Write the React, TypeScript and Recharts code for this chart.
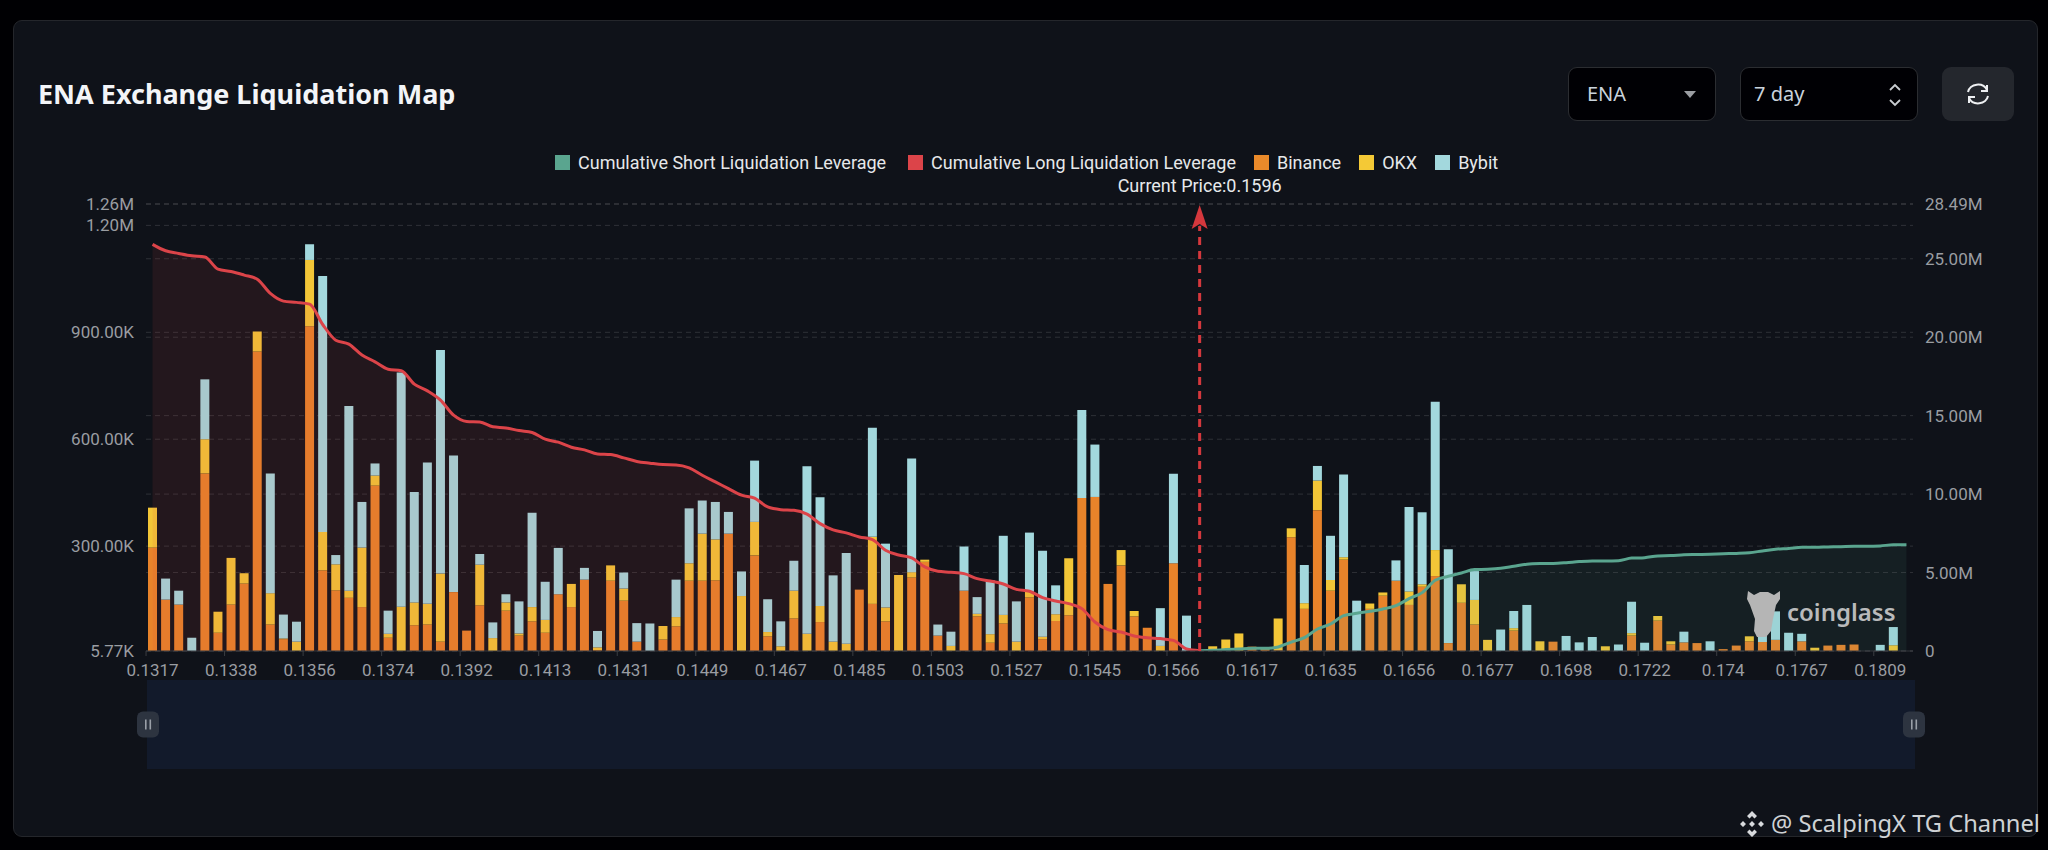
import React from "react";
import { ComposedChart, Bar, Area, XAxis, YAxis, CartesianGrid, Legend, ReferenceLine, Brush } from "recharts";

// x tick labels, one for every 6th price bucket
const priceLabels = [
  "0.1317", "0.1338", "0.1356", "0.1374", "0.1392", "0.1413", "0.1431", "0.1449",
  "0.1467", "0.1485", "0.1503", "0.1527", "0.1545", "0.1566", "0.1617", "0.1635",
  "0.1656", "0.1677", "0.1698", "0.1722", "0.174", "0.1767", "0.1809",
];

// liquidation per bucket, thousands
const binance = [
  296, 150, 136, 0, 504, 57, 136, 195, 846, 80,
  39, 0, 917, 232, 176, 155, 129, 470, 43, 0,
  78, 80, 32, 171, 63, 134, 0, 119, 49, 89,
  57, 165, 129, 206, 8, 203, 147, 32, 0, 38,
  75, 203, 203, 204, 335, 0, 274, 47, 0, 97,
  0, 87, 0, 0, 178, 138, 89, 0, 212, 256,
  49, 0, 175, 103, 29, 83, 0, 156, 39, 90,
  106, 435, 438, 194, 246, 103, 71, 0, 252, 0,
  0, 0, 0, 0, 18, 10, 8, 325, 124, 401,
  175, 262, 0, 124, 161, 203, 135, 186, 216, 28,
  141, 80, 0, 0, 63, 0, 0, 32, 0, 0,
  0, 0, 0, 49, 0, 91, 24, 30, 28, 0,
  11, 21, 33, 31, 37, 0, 33, 0, 21, 23,
  24, 0, 0, 0, 0,
];
const okx = [
  112, 0, 0, 0, 96, 59, 131, 29, 56, 88,
  2, 32, 186, 108, 73, 20, 167, 28, 11, 130,
  64, 58, 191, 0, 0, 114, 42, 23, 6, 40,
  36, 0, 65, 0, 8, 43, 34, 0, 0, 38,
  26, 49, 132, 115, 0, 160, 94, 12, 19, 78,
  54, 45, 32, 26, 0, 188, 39, 219, 15, 6,
  0, 20, 0, 7, 24, 24, 32, 16, 7, 19,
  160, 0, 0, 0, 43, 15, 0, 20, 0, 0,
  0, 19, 38, 55, 0, 2, 89, 25, 16, 83,
  30, 7, 0, 15, 9, 0, 38, 7, 73, 0,
  52, 69, 37, 0, 7, 0, 33, 0, 0, 0,
  0, 19, 0, 7, 0, 13, 9, 0, 0, 0,
  0, 0, 14, 0, 0, 0, 0, 15, 0, 0,
  0, 0, 0, 22, 0,
];
const bybit = [
  0, 59, 39, 43, 168, 0, 0, 0, 0, 336,
  67, 56, 44, 718, 26, 518, 128, 34, 65, 657,
  310, 397, 627, 383, 0, 30, 44, 23, 90, 265,
  107, 130, 0, 33, 46, 0, 45, 52, 83, 0,
  105, 154, 93, 105, 61, 69, 172, 92, 70, 84,
  470, 305, 186, 255, 0, 306, 179, 0, 319, 0,
  31, 40, 124, 47, 151, 222, 113, 166, 241, 81,
  0, 247, 147, 0, 0, 0, 0, 106, 251, 105,
  0, 0, 0, 0, 0, 0, 0, 0, 107, 41,
  124, 232, 147, 0, 0, 57, 237, 202, 416, 263,
  0, 81, 0, 66, 48, 135, 0, 0, 48, 30,
  45, 0, 24, 88, 29, 0, 0, 30, 0, 33,
  0, 0, 0, 53, 80, 57, 21, 0, 0, 0,
  0, 0, 23, 51, 0,
];

// cumulative leverage, millions. Long runs from bucket 0 to 80, short from 80 to 134
const cumulativeLong = [
  25.92, 25.51, 25.34, 25.19, 25.11, 24.34, 24.19, 23.96, 23.7, 22.79,
  22.3, 22.22, 22.11, 20.81, 19.81, 19.56, 18.86, 18.43, 17.96, 17.86,
  17.01, 16.58, 15.99, 15.03, 14.63, 14.6, 14.29, 14.22, 14.05, 13.93,
  13.5, 13.31, 12.99, 12.82, 12.56, 12.52, 12.31, 12.08, 11.97, 11.88,
  11.86, 11.67, 11.2, 10.78, 10.35, 9.93, 9.74, 9.18, 9.01, 8.97,
  8.72, 8.12, 7.72, 7.53, 7.27, 7.1, 6.42, 6.12, 5.93, 5.36,
  5.08, 5.02, 4.93, 4.61, 4.46, 4.27, 3.93, 3.81, 3.4, 3.19,
  3.02, 2.7, 1.85, 1.36, 1.21, 0.96, 0.85, 0.79, 0.68, 0.13,
  0.02,
];
const cumulativeShort = [
  0.02, 0.04, 0.09, 0.13, 0.17, 0.17, 0.26, 0.57, 0.85, 1.4,
  1.72, 2.25, 2.4, 2.53, 2.68, 2.89, 3.34, 3.72, 4.51, 4.76,
  4.97, 5.19, 5.21, 5.27, 5.4, 5.53, 5.57, 5.58, 5.63, 5.7,
  5.74, 5.74, 5.76, 5.92, 5.95, 6.06, 6.08, 6.13, 6.15, 6.17,
  6.2, 6.22, 6.26, 6.38, 6.49, 6.54, 6.61, 6.61, 6.63, 6.65,
  6.67, 6.67, 6.7, 6.77, 6.77,
];
const shortStart = 80;

const leftTicks = [5.77, 300, 600, 900, 1200, 1260];
const leftLabels = ["5.77K", "300.00K", "600.00K", "900.00K", "1.20M", "1.26M"];
const rightTicks = [0, 5, 10, 15, 20, 25, 28.49];
const rightLabels = ["0", "5.00M", "10.00M", "15.00M", "20.00M", "25.00M", "28.49M"];

const legendItems = [
  { name: "Cumulative Short Liquidation Leverage", color: "#5aa58f" },
  { name: "Cumulative Long Liquidation Leverage", color: "#dc4449" },
  { name: "Binance", color: "#ea8a2a" },
  { name: "OKX", color: "#f4c936" },
  { name: "Bybit", color: "#a3d8dd" },
];

const rows = binance.map((b, i) => ({
  bucket: i,
  binance: b,
  okx: okx[i],
  bybit: bybit[i],
  long: i < cumulativeLong.length ? cumulativeLong[i] : null,
  short: i >= shortStart ? cumulativeShort[i - shortStart] : null,
}));

const axisFont = "Roboto, sans-serif";

const PriceTick = (props: any) => {
  const { x, y, payload } = props;
  return (
    <g>
      <line x1={x - 6.5} x2={x - 6.5} y1={y - 8} y2={y - 3} stroke="#3a3d42" />
      <text x={x} y={y + 17} textAnchor="middle" fontFamily={axisFont} fontSize={17} fill="#9a9da2">
        {priceLabels[payload.value / 6]}
      </text>
    </g>
  );
};

const CurrentPrice = (props: any) => {
  const { x1, y1, y2 } = props;
  const bottom = Math.max(y1, y2);
  const top = Math.min(y1, y2);
  return (
    <g>
      <line x1={x1} x2={x1} y1={bottom} y2={top + 22} stroke="#d5383d" strokeWidth={3} strokeDasharray="8 6" />
      <path
        d={`M${x1} ${top + 1} L${x1 + 8} ${top + 25} L${x1} ${top + 20} L${x1 - 8} ${top + 25} Z`}
        fill="#d5383d"
      />
      <text x={x1} y={top - 12} textAnchor="middle" fontFamily={axisFont} fontSize={18} fill="#e8eaec">
        Current Price:0.1596
      </text>
    </g>
  );
};

const Handle = (props: any) => {
  const { x, y, height } = props;
  const cx = x + 1;
  const cy = y + height / 2;
  return (
    <g>
      <rect x={cx - 11} y={cy - 13} width={22} height={26} rx={6} fill="#2d3440" />
      <rect x={cx - 3} y={cy - 5} width={1.6} height={10} fill="#9aa0a8" />
      <rect x={cx + 1.5} y={cy - 5} width={1.6} height={10} fill="#9aa0a8" />
    </g>
  );
};

const ChartLegend = () => (
  <div style={{ display: "flex", alignItems: "center", fontFamily: axisFont, fontSize: 18, color: "#e6e8ea", whiteSpace: "nowrap" }}>
    {legendItems.map((item, i) => (
      <span key={item.name} style={{ display: "flex", alignItems: "center", marginRight: i === 0 ? 22 : 18 }}>
        <span style={{ width: 15, height: 15, background: item.color, marginRight: 8 }} />
        {item.name}
      </span>
    ))}
  </div>
);

const boxStyle: React.CSSProperties = {
  position: "absolute",
  top: 67,
  height: 54,
  boxSizing: "border-box",
  background: "#000004",
  border: "1px solid #2b2d31",
  borderRadius: 9,
  color: "#c9d3dc",
  fontFamily: "'Noto Sans', sans-serif",
  fontSize: 20,
  lineHeight: "52px",
};

const App = () => (
  <div style={{ position: "fixed", left: 0, top: 0, width: 2048, height: 850, background: "#000003", overflow: "hidden" }}>
    <div
      style={{
        position: "absolute", left: 13, top: 20, width: 2025, height: 817, boxSizing: "border-box",
        background: "#0f1219", border: "1px solid #24262b", borderRadius: 9,
      }}
    />
    <div
      style={{
        position: "absolute", left: 38, top: 74, fontFamily: "'Noto Sans', sans-serif", fontWeight: 700,
        fontSize: 27, lineHeight: "40px", color: "#f3f5f8", whiteSpace: "nowrap",
      }}
    >
      ENA Exchange Liquidation Map
    </div>

    <div style={{ ...boxStyle, left: 1568, width: 148, paddingLeft: 18 }}>
      ENA
      <svg style={{ position: "absolute", left: 114, top: 22 }} width={14} height={9}>
        <path d="M1 1 L13 1 L7 8 Z" fill="#9a9da2" />
      </svg>
    </div>
    <div style={{ ...boxStyle, left: 1740, width: 178, paddingLeft: 13 }}>
      7 day
      <svg style={{ position: "absolute", left: 147, top: 15 }} width={14} height={24}>
        <path d="M2 7 L7 2 L12 7 M2 17 L7 22 L12 17" fill="none" stroke="#c9cdd2" strokeWidth={1.8} />
      </svg>
    </div>
    <div style={{ position: "absolute", left: 1942, top: 67, width: 72, height: 54, background: "#24272d", borderRadius: 9 }}>
      <svg style={{ position: "absolute", left: 23, top: 15 }} width={26} height={24} viewBox="0 0 26 24">
        <path d="M3 10 A10 9 0 0 1 22 8 M23 14 A10 9 0 0 1 4 16" fill="none" stroke="#eef0f2" strokeWidth={2} />
        <path d="M22 3 L22 9 L16 9 M4 21 L4 15 L10 15" fill="none" stroke="#eef0f2" strokeWidth={2} />
      </svg>
    </div>

    <div style={{ position: "absolute", left: 0, top: 0 }}>
      <ComposedChart width={2048} height={850} data={rows} margin={{ top: 204, right: 35, bottom: 80, left: 46 }}>
        <CartesianGrid yAxisId="left" vertical={false} stroke="rgba(255,255,255,0.13)" strokeDasharray="5 4" />
        <CartesianGrid yAxisId="right" vertical={false} stroke="rgba(255,255,255,0.13)" strokeDasharray="5 4" />
        <XAxis
          dataKey="bucket"
          interval={5}
          height={30}
          tick={<PriceTick />}
          tickLine={false}
          axisLine={{ stroke: "#34373c" }}
        />
        <YAxis
          yAxisId="left"
          width={100}
          domain={[5.77, 1260]}
          ticks={leftTicks}
          interval={0}
          allowDataOverflow
          tickFormatter={(v: number) => leftLabels[leftTicks.indexOf(v)]}
          tick={{ fill: "#9a9da2", fontSize: 17, fontFamily: axisFont }}
          tickLine={false}
          axisLine={false}
          tickMargin={6}
        />
        <YAxis
          yAxisId="right"
          orientation="right"
          width={100}
          domain={[0, 28.49]}
          ticks={rightTicks}
          interval={0}
          allowDataOverflow
          tickFormatter={(v: number) => rightLabels[rightTicks.indexOf(v)]}
          tick={{ fill: "#9a9da2", fontSize: 17, fontFamily: axisFont }}
          tickLine={false}
          axisLine={false}
          tickMargin={6}
        />
        <Legend
          verticalAlign="middle"
          layout="horizontal"
          content={<ChartLegend />}
          wrapperStyle={{ top: 152, left: 555, width: 1000 }}
        />
        <Bar yAxisId="left" dataKey="binance" name="Binance" stackId="ex" fill="#e8832a" barSize={9} isAnimationActive={false} />
        <Bar yAxisId="left" dataKey="okx" name="OKX" stackId="ex" fill="#f3c637" barSize={9} isAnimationActive={false} />
        <Bar yAxisId="left" dataKey="bybit" name="Bybit" stackId="ex" fill="#a3d8dd" barSize={9} isAnimationActive={false} />
        <Area
          yAxisId="right"
          dataKey="long"
          name="Cumulative Long Liquidation Leverage"
          type="monotone"
          stroke="#dc4449"
          strokeWidth={3}
          fill="#dc4449"
          fillOpacity={0.1}
          dot={false}
          zIndex={450}
          isAnimationActive={false}
        />
        <Area
          yAxisId="right"
          dataKey="short"
          name="Cumulative Short Liquidation Leverage"
          type="monotone"
          stroke="#5aa58f"
          strokeWidth={3}
          fill="#5aa58f"
          fillOpacity={0.09}
          dot={false}
          zIndex={450}
          isAnimationActive={false}
        />
        <ReferenceLine yAxisId="left" x={80} shape={<CurrentPrice />} zIndex={500} />
        <Brush
          dataKey="bucket"
          x={147}
          y={680}
          width={1768}
          height={89}
          fill="#121a2b"
          stroke="none"
          travellerWidth={2}
          traveller={<Handle />}
          tickFormatter={() => ""}
        />
      </ComposedChart>
    </div>

    {/* coinglass mark */}
    <svg style={{ position: "absolute", left: 1740, top: 585 }} width={50} height={56} viewBox="0 0 50 56">
      <path
        d="M8 6 L14 10 L20 7 L28 7 L34 10 L40 6 L40 14 L36 20 L33 34 L31 46 L26 52 L17 52 L14 46 L15 34 L10 20 L7 14 Z"
        fill="#b5b5b5"
      />
    </svg>
    <div
      style={{
        position: "absolute", left: 1787, top: 594, fontFamily: "'Noto Sans', sans-serif", fontWeight: 600,
        fontSize: 24, lineHeight: "36px", color: "#b9babb",
      }}
    >
      coinglass
    </div>

    {/* repost mark */}
    <svg style={{ position: "absolute", left: 1738, top: 810 }} width={28} height={28} viewBox="0 0 28 28">
      <path
        d="M14 1 L19 6 L16.5 8.5 L14 6 L11.500 8.500 L9 6 Z M14 27 L19 22 L16.5 19.5 L14 22 L11.5 19.5 L9 22 Z M5 11 L8 14 L5 17 L2 14 Z M23 11 L26 14 L23 17 L20 14 Z M14 11 L17 14 L14 17 L11 14 Z"
        fill="#d8dadd"
      />
    </svg>
    <div
      style={{
        position: "absolute", left: 1771, top: 806, fontFamily: "'Noto Sans', sans-serif", fontSize: 23.7,
        lineHeight: "34px", color: "#cfd2d5", whiteSpace: "nowrap",
      }}
    >
      @ ScalpingX TG Channel
    </div>
  </div>
);

export default App;
